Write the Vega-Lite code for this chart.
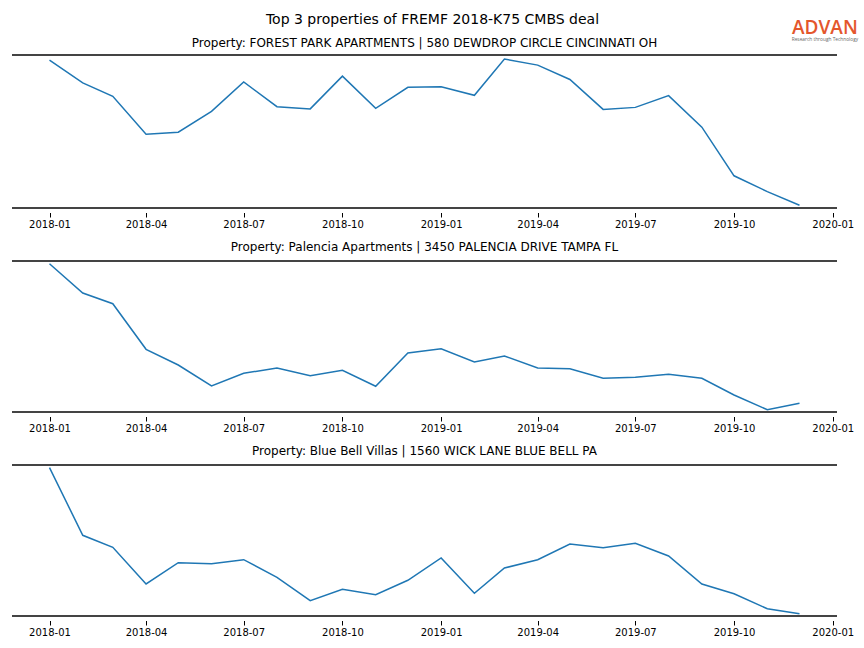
{
  "$schema": "https://vega.github.io/schema/vega-lite/v6.json",
  "background": "white",
  "padding": {"left": 11, "top": 12, "right": 0, "bottom": 0},
  "title": {"text": "Top 3 properties of FREMF 2018-K75 CMBS deal", "fontSize": 14, "anchor": "middle", "frame": "group", "offset": -19, "dx": 8, "baseline": "alphabetic", "font": "DejaVu Sans", "fontWeight": "normal", "color": "#000"},
  "spacing": 44,
  "bounds": "flush",
  "datasets": {
    "series": [
      {"panel": 1, "month": "2018-01-01", "v": 147},
      {"panel": 1, "month": "2018-02-01", "v": 124.3},
      {"panel": 1, "month": "2018-03-01", "v": 111},
      {"panel": 1, "month": "2018-04-01", "v": 73.3},
      {"panel": 1, "month": "2018-05-01", "v": 75.3},
      {"panel": 1, "month": "2018-06-01", "v": 96},
      {"panel": 1, "month": "2018-07-01", "v": 125.3},
      {"panel": 1, "month": "2018-08-01", "v": 100.7},
      {"panel": 1, "month": "2018-09-01", "v": 98.5},
      {"panel": 1, "month": "2018-10-01", "v": 131},
      {"panel": 1, "month": "2018-11-01", "v": 99},
      {"panel": 1, "month": "2018-12-01", "v": 120},
      {"panel": 1, "month": "2019-01-01", "v": 120.5},
      {"panel": 1, "month": "2019-02-01", "v": 112},
      {"panel": 1, "month": "2019-03-01", "v": 148},
      {"panel": 1, "month": "2019-04-01", "v": 142},
      {"panel": 1, "month": "2019-05-01", "v": 127.7},
      {"panel": 1, "month": "2019-06-01", "v": 98},
      {"panel": 1, "month": "2019-07-01", "v": 100},
      {"panel": 1, "month": "2019-08-01", "v": 111.7},
      {"panel": 1, "month": "2019-09-01", "v": 80.3},
      {"panel": 1, "month": "2019-10-01", "v": 32},
      {"panel": 1, "month": "2019-11-01", "v": 16.3},
      {"panel": 1, "month": "2019-12-01", "v": 2.7},
      {"panel": 2, "month": "2018-01-01", "v": 148.3},
      {"panel": 2, "month": "2018-02-01", "v": 119},
      {"panel": 2, "month": "2018-03-01", "v": 108.3},
      {"panel": 2, "month": "2018-04-01", "v": 62.7},
      {"panel": 2, "month": "2018-05-01", "v": 47},
      {"panel": 2, "month": "2018-06-01", "v": 26},
      {"panel": 2, "month": "2018-07-01", "v": 38.7},
      {"panel": 2, "month": "2018-08-01", "v": 44},
      {"panel": 2, "month": "2018-09-01", "v": 36.3},
      {"panel": 2, "month": "2018-10-01", "v": 41.7},
      {"panel": 2, "month": "2018-11-01", "v": 25.7},
      {"panel": 2, "month": "2018-12-01", "v": 59},
      {"panel": 2, "month": "2019-01-01", "v": 63.3},
      {"panel": 2, "month": "2019-02-01", "v": 50},
      {"panel": 2, "month": "2019-03-01", "v": 56},
      {"panel": 2, "month": "2019-04-01", "v": 44},
      {"panel": 2, "month": "2019-05-01", "v": 43.3},
      {"panel": 2, "month": "2019-06-01", "v": 33.7},
      {"panel": 2, "month": "2019-07-01", "v": 34.7},
      {"panel": 2, "month": "2019-08-01", "v": 37.7},
      {"panel": 2, "month": "2019-09-01", "v": 33.7},
      {"panel": 2, "month": "2019-10-01", "v": 17},
      {"panel": 2, "month": "2019-11-01", "v": 2.3},
      {"panel": 2, "month": "2019-12-01", "v": 8.7},
      {"panel": 3, "month": "2018-01-01", "v": 148.3},
      {"panel": 3, "month": "2018-02-01", "v": 80.7},
      {"panel": 3, "month": "2018-03-01", "v": 68.7},
      {"panel": 3, "month": "2018-04-01", "v": 32},
      {"panel": 3, "month": "2018-05-01", "v": 53.3},
      {"panel": 3, "month": "2018-06-01", "v": 52.3},
      {"panel": 3, "month": "2018-07-01", "v": 56.3},
      {"panel": 3, "month": "2018-08-01", "v": 38.7},
      {"panel": 3, "month": "2018-09-01", "v": 15.3},
      {"panel": 3, "month": "2018-10-01", "v": 26.7},
      {"panel": 3, "month": "2018-11-01", "v": 21.3},
      {"panel": 3, "month": "2018-12-01", "v": 35.7},
      {"panel": 3, "month": "2019-01-01", "v": 58},
      {"panel": 3, "month": "2019-02-01", "v": 22.7},
      {"panel": 3, "month": "2019-03-01", "v": 48},
      {"panel": 3, "month": "2019-04-01", "v": 56.3},
      {"panel": 3, "month": "2019-05-01", "v": 72},
      {"panel": 3, "month": "2019-06-01", "v": 68.3},
      {"panel": 3, "month": "2019-07-01", "v": 72.7},
      {"panel": 3, "month": "2019-08-01", "v": 60},
      {"panel": 3, "month": "2019-09-01", "v": 32},
      {"panel": 3, "month": "2019-10-01", "v": 22.3},
      {"panel": 3, "month": "2019-11-01", "v": 7.3},
      {"panel": 3, "month": "2019-12-01", "v": 2.3}
    ]
  },
  "vconcat": [
    {
      "width": 825,
      "height": 161,
      "title": {"text": "Property: FOREST PARK APARTMENTS | 580 DEWDROP CIRCLE CINCINNATI OH", "offset": -31},
      "layer": [
        {
          "data": {"name": "series"},
          "transform": [{"filter": "datum.panel === 1"}],
          "mark": {"type": "line", "color": "#1f77b4", "strokeWidth": 1.5},
          "encoding": {
            "x": {"field": "month", "type": "temporal",
                  "scale": {"type": "utc", "domain": [{"year": 2017, "month": 11, "date": 27, "hours": 1, "minutes": 12, "utc": true}, {"year": 2020, "month": 1, "date": 4, "hours": 22, "minutes": 48, "utc": true}]},
                  "axis": {"format": "%Y-%m", "values": [
                    {"year": 2018, "month": 1, "date": 1, "utc": true}, {"year": 2018, "month": 4, "date": 1, "utc": true}, {"year": 2018, "month": 7, "date": 1, "utc": true}, {"year": 2018, "month": 10, "date": 1, "utc": true},
                    {"year": 2019, "month": 1, "date": 1, "utc": true}, {"year": 2019, "month": 4, "date": 1, "utc": true}, {"year": 2019, "month": 7, "date": 1, "utc": true}, {"year": 2019, "month": 10, "date": 1, "utc": true},
                    {"year": 2020, "month": 1, "date": 1, "utc": true}]}},
            "y": {"field": "v", "type": "quantitative", "scale": {"domain": [0, 152]}, "axis": null}
          }
        },
        {"data": {"values": [{}]}, "mark": {"type": "rule", "color": "#444444", "strokeWidth": 2}, "encoding": {"y": {"datum": 0, "type": "quantitative"}}},
        {"data": {"values": [{}]}, "mark": {"type": "rule", "color": "#444444", "strokeWidth": 2}, "encoding": {"y": {"datum": 152, "type": "quantitative"}}},
        {"data": {"values": [{}]}, "mark": {"type": "text", "text": "ADVAN", "font": "Open Sans", "fontSize": 19, "fontWeight": 600, "color": "#E4562C", "align": "center", "baseline": "alphabetic"},
         "encoding": {"x": {"datum": {"year": 2019, "month": 12, "date": 24, "hours": 17, "utc": true}, "type": "temporal"}, "y": {"datum": 173, "type": "quantitative"}}},
        {"data": {"values": [{}]}, "mark": {"type": "text", "text": "Research through Technology", "font": "Open Sans", "fontSize": 4.8, "color": "#666666", "align": "center", "baseline": "alphabetic"},
         "encoding": {"x": {"datum": {"year": 2019, "month": 12, "date": 24, "hours": 17, "utc": true}, "type": "temporal"}, "y": {"datum": 166, "type": "quantitative"}}}
      ]
    },
    {
      "width": 825,
      "height": 160,
      "title": {"text": "Property: Palencia Apartments | 3450 PALENCIA DRIVE TAMPA FL", "offset": -2},
      "layer": [
        {
          "data": {"name": "series"},
          "transform": [{"filter": "datum.panel === 2"}],
          "mark": {"type": "line", "color": "#1f77b4", "strokeWidth": 1.5},
          "encoding": {
            "x": {"field": "month", "type": "temporal",
                  "scale": {"type": "utc", "domain": [{"year": 2017, "month": 11, "date": 27, "hours": 1, "minutes": 12, "utc": true}, {"year": 2020, "month": 1, "date": 4, "hours": 22, "minutes": 48, "utc": true}]},
                  "axis": {"format": "%Y-%m", "values": [
                    {"year": 2018, "month": 1, "date": 1, "utc": true}, {"year": 2018, "month": 4, "date": 1, "utc": true}, {"year": 2018, "month": 7, "date": 1, "utc": true}, {"year": 2018, "month": 10, "date": 1, "utc": true},
                    {"year": 2019, "month": 1, "date": 1, "utc": true}, {"year": 2019, "month": 4, "date": 1, "utc": true}, {"year": 2019, "month": 7, "date": 1, "utc": true}, {"year": 2019, "month": 10, "date": 1, "utc": true},
                    {"year": 2020, "month": 1, "date": 1, "utc": true}]}},
            "y": {"field": "v", "type": "quantitative", "scale": {"domain": [0, 151]}, "axis": null}
          }
        },
        {"data": {"values": [{}]}, "mark": {"type": "rule", "color": "#444444", "strokeWidth": 2}, "encoding": {"y": {"datum": 0, "type": "quantitative"}}},
        {"data": {"values": [{}]}, "mark": {"type": "rule", "color": "#444444", "strokeWidth": 2}, "encoding": {"y": {"datum": 151, "type": "quantitative"}}}
      ]
    },
    {
      "width": 825,
      "height": 160,
      "title": {"text": "Property: Blue Bell Villas | 1560 WICK LANE BLUE BELL PA", "offset": -2},
      "layer": [
        {
          "data": {"name": "series"},
          "transform": [{"filter": "datum.panel === 3"}],
          "mark": {"type": "line", "color": "#1f77b4", "strokeWidth": 1.5},
          "encoding": {
            "x": {"field": "month", "type": "temporal",
                  "scale": {"type": "utc", "domain": [{"year": 2017, "month": 11, "date": 27, "hours": 1, "minutes": 12, "utc": true}, {"year": 2020, "month": 1, "date": 4, "hours": 22, "minutes": 48, "utc": true}]},
                  "axis": {"format": "%Y-%m", "values": [
                    {"year": 2018, "month": 1, "date": 1, "utc": true}, {"year": 2018, "month": 4, "date": 1, "utc": true}, {"year": 2018, "month": 7, "date": 1, "utc": true}, {"year": 2018, "month": 10, "date": 1, "utc": true},
                    {"year": 2019, "month": 1, "date": 1, "utc": true}, {"year": 2019, "month": 4, "date": 1, "utc": true}, {"year": 2019, "month": 7, "date": 1, "utc": true}, {"year": 2019, "month": 10, "date": 1, "utc": true},
                    {"year": 2020, "month": 1, "date": 1, "utc": true}]}},
            "y": {"field": "v", "type": "quantitative", "scale": {"domain": [0, 151]}, "axis": null}
          }
        },
        {"data": {"values": [{}]}, "mark": {"type": "rule", "color": "#444444", "strokeWidth": 2}, "encoding": {"y": {"datum": 0, "type": "quantitative"}}},
        {"data": {"values": [{}]}, "mark": {"type": "rule", "color": "#444444", "strokeWidth": 2}, "encoding": {"y": {"datum": 151, "type": "quantitative"}}}
      ]
    }
  ],
  "config": {
    "view": {"stroke": null},
    "font": "DejaVu Sans",
    "title": {"font": "DejaVu Sans", "fontSize": 12, "fontWeight": "normal", "color": "#000000", "anchor": "middle", "baseline": "alphabetic", "offset": 9},
    "axis": {
      "domain": false, "grid": false, "title": null,
      "ticks": true, "tickSize": 4.5, "tickColor": "#000000", "tickWidth": 1, "offset": 4.5,
      "labelFont": "DejaVu Sans", "labelFontSize": 10, "labelColor": "#000000", "labelPadding": 2,
      "labelOverlap": false, "labelFlush": false, "labelBound": false
    }
  }
}
